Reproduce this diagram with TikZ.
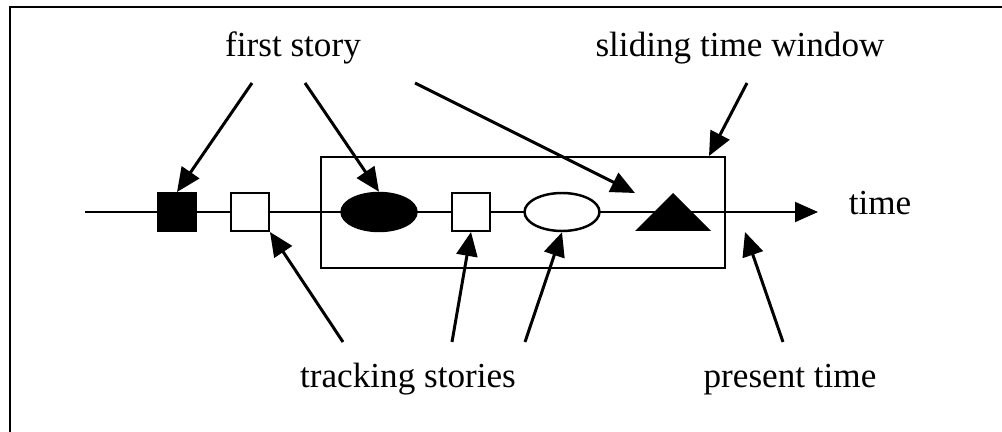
\documentclass[tikz,border=0pt]{standalone}
\usepackage{fontspec}
\setmainfont{Liberation Serif}
\usetikzlibrary{arrows.meta,shapes.geometric}

\tikzset{
  lbl/.style={anchor=base, font=\fontsize{20}{24}\selectfont},
  ptr/.style={line width=1.7pt, -{Triangle[length=0.48cm, width=0.42cm]}},
  evbox/.style={draw, line width=1.4pt, inner sep=0pt, minimum size=0.75cm},
  evoval/.style={draw, ellipse, line width=1.4pt, inner sep=0pt, minimum width=1.5cm, minimum height=0.76cm}
}

\begin{document}
\begin{tikzpicture}[x=0.02cm, y=-0.02cm]
\useasboundingbox (0,0) rectangle (1002,432);

% Frame
\draw[line width=0.8pt] (10,440) -- (10,7) -- (1010,7);

% Time line
\coordinate (t0) at (85,212);
\coordinate (t1) at (818,212);
\draw[line width=1.1pt, -{Triangle[length=0.46cm, width=0.4cm]}] (t0) -- (t1);

% Sliding window
\node[draw, line width=1.4pt, minimum width=8.08cm, minimum height=2.22cm] (win) at (523,212.5) {};

% Stories on the line
\node[evbox, fill=black] (first1) at (177,212) {};
\node[evbox, fill=white] (track1) at (250,212) {};
\node[evoval, fill=black] (first2) at (379,212) {};
\node[evbox, fill=white] (track2) at (471,212) {};
\node[evoval, fill=white] (track3) at (562,212) {};

% Present time marker
\coordinate (triL) at (635,231);
\coordinate (triT) at (673,193);
\coordinate (triR) at (711,231);
\fill (triL) -- (triT) -- (triR) -- cycle;

% Labels
\node[lbl] (first) at (293,57) {first story};
\node[lbl] (slide) at (740,57) {sliding time window};
\node[lbl] (time) at (880,215) {time};
\node[lbl] (track) at (408,388) {tracking stories};
\node[lbl] (present) at (790,388) {present time};

% Arrow ends
\coordinate (f1) at (252,83);
\coordinate (f2) at (305,83);
\coordinate (f3) at (415,83);
\coordinate (s1) at (747,83);
\coordinate (k1) at (343,342);
\coordinate (k2) at (452,342);
\coordinate (k3) at (525,342);
\coordinate (p1) at (783,342);
\coordinate (winTip) at (709,156);
\coordinate (triTip) at (635,193);
\coordinate (nowTip) at (745,232);

% Arrows from the labels
\draw[ptr] (f1) -- (first1.north);
\draw[ptr] (f2) -- (first2.north);
\draw[ptr] (f3) -- (triTip);
\draw[ptr] (s1) -- (winTip);
\draw[ptr] (k1) -- (track1.south east);
\draw[ptr] (k2) -- (track2.south);
\draw[ptr] (k3) -- (track3.south);
\draw[ptr] (p1) -- (nowTip);

\end{tikzpicture}
\end{document}
